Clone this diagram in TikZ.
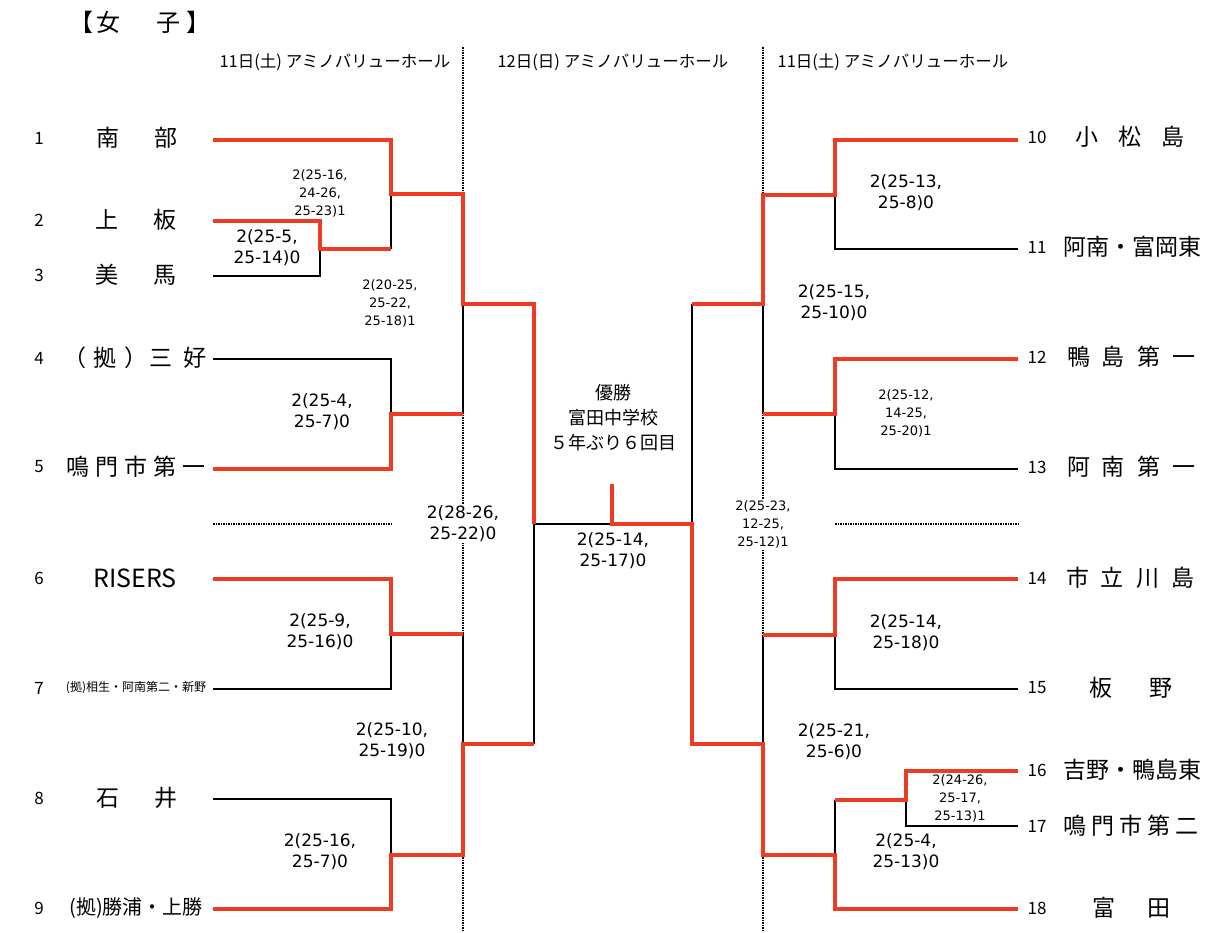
\documentclass[tikz,border=0pt]{standalone}
\usepackage{fontspec}
\setmainfont{Noto Sans CJK JP}
\newfontfamily\scorefont{DejaVu Sans}
\definecolor{winred}{RGB}{238,59,36}
\newcommand{\jsp}[1]{\hspace{#1pt}}

\begin{document}
\begin{tikzpicture}[x=1pt,y=-1pt,
    win/.style={draw=winred,line width=4pt},
    lose/.style={draw=black,line width=2.2pt},
    sepline/.style={line width=1.5pt,dash pattern=on 1.6pt off 0.9pt},
    num/.style={font=\fontsize{17}{17}\selectfont},
    team/.style={font=\fontsize{23}{23}\selectfont,inner sep=0pt},
    score/.style={font=\scorefont\fontsize{17}{21}\selectfont,align=center,inner sep=1pt},
    small/.style={font=\scorefont\fontsize{13}{18}\selectfont,align=center,inner sep=1pt},
    cut/.style={fill=white},
    day/.style={font=\fontsize{16.5}{16.5}\selectfont}]
    \useasboundingbox (0,0) rectangle (1228,932);
    %% Headings
    \node[font=\fontsize{24}{24}\selectfont,inner sep=0pt] (title) at (140,22) {【\jsp{4}女\jsp{36}子\jsp{6}】};
    \node[day] (day1) at (335,62) {11日(土) アミノバリューホール};
    \node[day] (day2) at (613,62) {12日(日) アミノバリューホール};
    \node[day] (day3) at (893,62) {11日(土) アミノバリューホール};
    %% Separators
    \coordinate (v1t) at (463,47); \coordinate (v1b) at (463,932);
    \coordinate (v2t) at (763,47); \coordinate (v2b) at (763,932);
    \coordinate (h1l) at (213,524); \coordinate (h1r) at (391,524);
    \coordinate (h2l) at (835,524); \coordinate (h2r) at (1018,524);
    \draw[sepline] (v1t) -- (v1b);
    \draw[sepline] (v2t) -- (v2b);
    \draw[sepline] (h1l) -- (h1r);
    \draw[sepline] (h2l) -- (h2r);
    %% Teams, left
    \node[num] (k1) at (39,138) {1};
    \node[num] (k2) at (39,220) {2};
    \node[num] (k3) at (39,275) {3};
    \node[num] (k4) at (39,358) {4};
    \node[num] (k5) at (39,467) {5};
    \node[num] (k6) at (39,578) {6};
    \node[num] (k7) at (39,688) {7};
    \node[num] (k8) at (39,798) {8};
    \node[num] (k9) at (39,908) {9};
    \node[team] (t1) at (137,138) {南\jsp{36}部};
    \node[team] (t2) at (136,220) {上\jsp{36}板};
    \node[team] (t3) at (136,275) {美\jsp{36}馬};
    \node[team] (t4) at (135,358) {（\jsp{8}拠\jsp{8}）\jsp{2}三\jsp{11}好};
    \node[team] (t5) at (136,467) {鳴\jsp{6}門\jsp{6}市\jsp{6}第\jsp{6}一};
    \node[team,font=\fontsize{25}{25}\selectfont] (t6) at (135,578) {RISERS};
    \node[team,font=\fontsize{12}{12}\selectfont] (t7) at (136,688) {(拠)相生・阿南第二・新野};
    \node[team] (t8) at (137,798) {石\jsp{36}井};
    \node[team,font=\fontsize{20}{20}\selectfont] (t9) at (136,908) {(拠)勝浦・上勝};
    %% Teams, right
    \node[num] (k10) at (1037,137) {10};
    \node[num] (k11) at (1037,247) {11};
    \node[num] (k12) at (1037,357) {12};
    \node[num] (k13) at (1037,467) {13};
    \node[num] (k14) at (1037,578) {14};
    \node[num] (k15) at (1037,688) {15};
    \node[num] (k16) at (1037,770) {16};
    \node[num] (k17) at (1037,826) {17};
    \node[num] (k18) at (1037,908) {18};
    \node[team] (t10) at (1130,137) {小\jsp{20}松\jsp{20}島};
    \node[team] (t11) at (1132,247) {阿南・富岡東};
    \node[team] (t12) at (1131,357) {鴨\jsp{12}島\jsp{12}第\jsp{12}一};
    \node[team] (t13) at (1131,467) {阿\jsp{12}南\jsp{12}第\jsp{12}一};
    \node[team] (t14) at (1130,578) {市\jsp{12}立\jsp{12}川\jsp{12}島};
    \node[team] (t15) at (1131,688) {板\jsp{37}野};
    \node[team] (t16) at (1132,770) {吉野・鴨島東};
    \node[team] (t17) at (1131,826) {鳴\jsp{5}門\jsp{5}市\jsp{5}第\jsp{5}二};
    \node[team] (t18) at (1131,908) {富\jsp{32}田};
    %% Line ends
    \coordinate (a1) at (213,140); \coordinate (a2) at (213,221);
    \coordinate (a3) at (213,276); \coordinate (a4) at (213,359);
    \coordinate (a5) at (213,469); \coordinate (a6) at (213,579);
    \coordinate (a7) at (213,689); \coordinate (a8) at (213,799);
    \coordinate (a9) at (213,909);
    \coordinate (a10) at (1018,140); \coordinate (a11) at (1018,249);
    \coordinate (a12) at (1018,359); \coordinate (a13) at (1018,469);
    \coordinate (a14) at (1018,579); \coordinate (a15) at (1018,689);
    \coordinate (a16) at (1018,771); \coordinate (a17) at (1018,826);
    \coordinate (a18) at (1018,909);
    %% Matches
    \coordinate (mA) at (320,249); \coordinate (mB) at (391,194);
    \coordinate (mC) at (391,414); \coordinate (mD) at (463,304);
    \coordinate (mE) at (391,634); \coordinate (mF) at (391,855);
    \coordinate (mG) at (463,744); \coordinate (mH) at (534,524);
    \coordinate (mI) at (835,195); \coordinate (mJ) at (835,414);
    \coordinate (mK) at (763,304); \coordinate (mL) at (835,635);
    \coordinate (mM) at (906,800); \coordinate (mN) at (835,855);
    \coordinate (mO) at (763,744); \coordinate (mP) at (692,524);
    \coordinate (cup) at (612,524); \coordinate (cupt) at (612,484);
    %% Lost
    \draw[lose] (a3) -| (mA);
    \draw[lose] (mA -| mB) -- (mB);
    \draw[lose] (a4) -| (mC);
    \draw[lose] (mC -| mD) -- (mD);
    \draw[lose] (a7) -| (mE);
    \draw[lose] (mE -| mG) -- (mG);
    \draw[lose] (a8) -| (mF);
    \draw[lose] (mG -| mH) -- (mH);
    \draw[lose] (mH) -- (cup);
    \draw[lose] (a11) -| (mI);
    \draw[lose] (a13) -| (mJ);
    \draw[lose] (mJ -| mK) -- (mK);
    \draw[lose] (mK -| mP) -- (mP);
    \draw[lose] (a15) -| (mL);
    \draw[lose] (mL -| mO) -- (mO);
    \draw[lose] (a17) -| (mM);
    \draw[lose] (mM -| mN) -- (mN);
    %% Won
    \draw[win] (a2) -| (mA) -- (mA -| mB);
    \draw[win] (a1) -| (mB) -| (mD) -| (mH);
    \draw[win] (a5) -| (mC) -- (mC -| mD);
    \draw[win] (a6) -| (mE) -- (mE -| mG);
    \draw[win] (a9) -| (mF) -| (mG) -- (mG -| mH);
    \draw[win] (a10) -| (mI) -| (mK) -- (mK -| mP);
    \draw[win] (a12) -| (mJ) -- (mJ -| mK);
    \draw[win] (a14) -| (mL) -- (mL -| mO);
    \draw[win] (a16) -| (mM) -- (mM -| mN);
    \draw[win] (a18) -| (mN) -| (mO) -| (mP) -- (cup) -- (cupt);
    %% Scores
    \node[small] (s1) at (320,193) {2(25-16,\\24-26,\\25-23)1};
    \node[score] (s2) at (267,248) {2(25-5,\\25-14)0};
    \node[small] (s3) at (390,303) {2(20-25,\\25-22,\\25-18)1};
    \node[score] (s4) at (322,412) {2(25-4,\\25-7)0};
    \node[score,cut] (s5) at (463,524) {2(28-26,\\25-22)0};
    \node[score] (s6) at (320,632) {2(25-9,\\25-16)0};
    \node[score] (s7) at (392,741) {2(25-10,\\25-19)0};
    \node[score] (s8) at (320,852) {2(25-16,\\25-7)0};
    \node[score] (s9) at (613,551) {2(25-14,\\25-17)0};
    \node[score] (s10) at (906,193) {2(25-13,\\25-8)0};
    \node[score] (s11) at (834,303) {2(25-15,\\25-10)0};
    \node[small] (s12) at (906,413) {2(25-12,\\14-25,\\25-20)1};
    \node[small,cut] (s13) at (763,524) {2(25-23,\\12-25,\\25-12)1};
    \node[score] (s14) at (906,633) {2(25-14,\\25-18)0};
    \node[score] (s15) at (834,742) {2(25-21,\\25-6)0};
    \node[small] (s16) at (960,798) {2(24-26,\\25-17,\\25-13)1};
    \node[score] (s17) at (906,852) {2(25-4,\\25-13)0};
    %% Winner
    \node[font=\fontsize{18}{25}\selectfont,align=center] (champ) at (613,418) {優勝\\富田中学校\\５年ぶり６回目};
\end{tikzpicture}
\end{document}
